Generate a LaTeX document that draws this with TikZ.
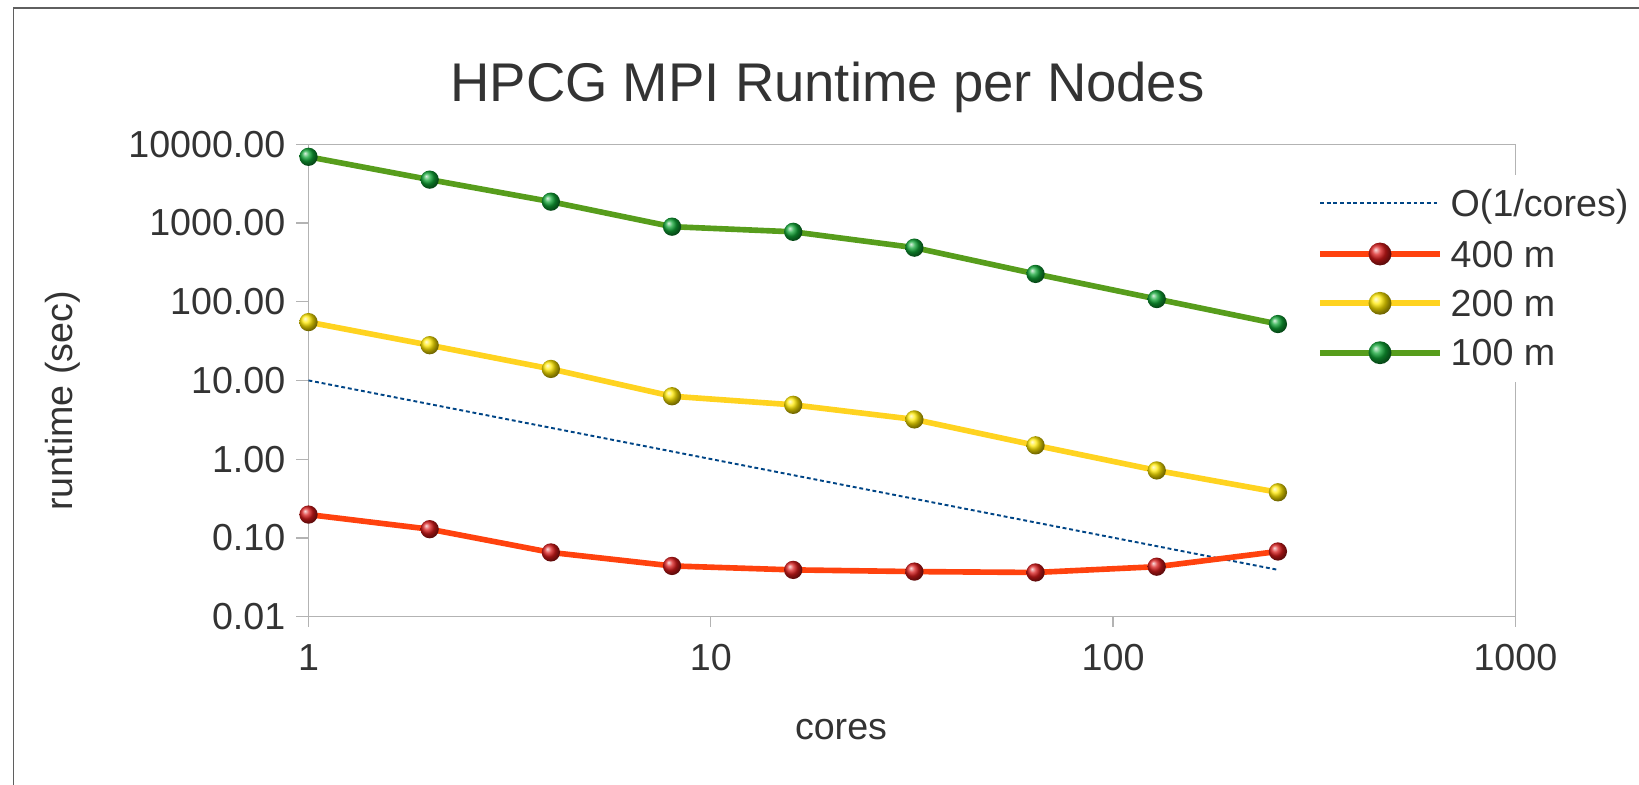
\documentclass[tikz,border=0pt]{standalone}
\usepackage{fontspec}
\setmainfont{Liberation Sans}
\usepackage{tikz}
\usetikzlibrary{calc}
\definecolor{txt}{HTML}{333333}
\definecolor{axgray}{HTML}{B3B3B3}
\definecolor{framegray}{HTML}{5F5F5F}
\definecolor{c400}{HTML}{FF420E}
\definecolor{c200}{HTML}{FFD320}
\definecolor{c100}{HTML}{579D1C}
\definecolor{cfit}{HTML}{004586}
\definecolor{bred}{HTML}{D81A1A}
\definecolor{byel}{HTML}{FFE800}
\definecolor{bgrn}{HTML}{10A535}
\tikzset{l/.style={font=\fontsize{10.7}{10.7}\selectfont, text=txt, inner sep=0pt}}
\tikzset{ttl/.style={font=\fontsize{15.5}{15.5}\selectfont, text=txt, inner sep=0pt}}
\tikzset{ax/.style={draw=axgray, line width=0.38pt}}
\tikzset{ser/.style={line width=1.6pt, line join=round}}
\tikzset{ofit/.style={draw=cfit, line width=0.55pt, dash pattern=on 1.1pt off 0.8pt}}
\tikzset{ball/.style={circle, inner sep=0pt, minimum size=5.2pt}}
\tikzset{bigball/.style={circle, inner sep=0pt, minimum size=6.5pt}}

\begin{document}
\begin{tikzpicture}[x=0.01cm, y=-0.01cm]
    \useasboundingbox (0,0) rectangle (1639,785);
    \draw[framegray, line width=0.4pt] (13.3,785) -- (13.3,8) -- (1639,8);
    \node[ttl, anchor=base] (title) at (827.5,101.4) {HPCG MPI Runtime per Nodes};
    \draw[ax] (296,144.3) -- (1515.5,144.3);
    \draw[ax] (296,616.7) -- (1515.5,616.7);
    \draw[ax] (308.5,144.3) -- (308.5,626.7);
    \draw[ax] (1515.5,144.3) -- (1515.5,626.7);
    \foreach \k in {1,...,5} \draw[ax] (296,{144.3+78.73*\k}) -- (308.5,{144.3+78.73*\k});
    \foreach \k in {1,2} \draw[ax] ({308.5+402.3*\k},616.7) -- ({308.5+402.3*\k},626.7);
    \foreach \lab [count=\k from 0] in {10000.00,1000.00,100.00,10.00,1.00,0.10,0.01}
      \node[l, anchor=east] (ylab\k) at (286,{144.3+78.73*\k}) {\lab};
    \foreach \lab [count=\k from 0] in {1,10,100,1000}
      \node[l, anchor=base] (xlab\k) at ({308.5+402.3*\k},670) {\lab};
    \node[l, anchor=base] (xtitle) at (841,739) {cores};
    \node[l, rotate=90] (ytitle) at (63,401) {runtime (sec)};
    \begin{scope}[shift={(308.5,459.2)}, x=4.023cm, y=0.7873cm]
      \foreach \c [count=\i] in {1,2,4,8,16,32,64,128,256}
        \coordinate (o\i) at ({log10(\c)},{log10(10/\c)});
      \foreach \c/\v [count=\i] in {1/0.198,2/0.126,4/0.064,8/0.044,16/0.039,32/0.037,64/0.036,128/0.043,256/0.066}
        \coordinate (r\i) at ({log10(\c)},{log10(\v)});
      \foreach \c/\v [count=\i] in {1/55,2/28,4/14,8/6.3,16/4.9,32/3.2,64/1.5,128/0.72,256/0.38}
        \coordinate (y\i) at ({log10(\c)},{log10(\v)});
      \foreach \c/\v [count=\i] in {1/6900,2/3540,4/1860,8/895,16/770,32/485,64/225,128/108,256/52}
        \coordinate (g\i) at ({log10(\c)},{log10(\v)});
      \draw[ofit] (o1) -- (o9);
      \draw[ser, c400] (r1) \foreach \i in {2,...,9} {-- (r\i)};
      \draw[ser, c200] (y1) \foreach \i in {2,...,9} {-- (y\i)};
      \draw[ser, c100] (g1) \foreach \i in {2,...,9} {-- (g\i)};
      \foreach \i in {1,...,9} {
        \node[ball, ball color=bred] (rb\i) at (r\i) {};
        \node[ball, ball color=byel] (yb\i) at (y\i) {};
        \node[ball, ball color=bgrn] (gb\i) at (g\i) {};
      }
    \end{scope}
    \node[fill=white, minimum width=3.39cm, minimum height=2.07cm, inner sep=0pt] (legend) at (1469.5,278.5) {};
    \coordinate (la0) at (1320,203.3); \coordinate (lb0) at (1440,203.3);
    \coordinate (la1) at (1320,254);   \coordinate (lb1) at (1440,254);
    \coordinate (la2) at (1320,303.3); \coordinate (lb2) at (1440,303.3);
    \coordinate (la3) at (1320,352.7); \coordinate (lb3) at (1440,352.7);
    \draw[ofit] (la0) -- (lb0);
    \draw[ser, c400] (la1) -- (lb1);
    \draw[ser, c200] (la2) -- (lb2);
    \draw[ser, c100] (la3) -- (lb3);
    \node[bigball, ball color=bred] (lm1) at ($(la1)!0.5!(lb1)$) {};
    \node[bigball, ball color=byel] (lm2) at ($(la2)!0.5!(lb2)$) {};
    \node[bigball, ball color=bgrn] (lm3) at ($(la3)!0.5!(lb3)$) {};
    \node[l, anchor=base west] (lt0) at (1450,216.5) {O(1/cores)};
    \node[l, anchor=base west] (lt1) at (1450,267.3) {400 m};
    \node[l, anchor=base west] (lt2) at (1450,316.6) {200 m};
    \node[l, anchor=base west] (lt3) at (1450,366) {100 m};
  \end{tikzpicture}
\end{document}
